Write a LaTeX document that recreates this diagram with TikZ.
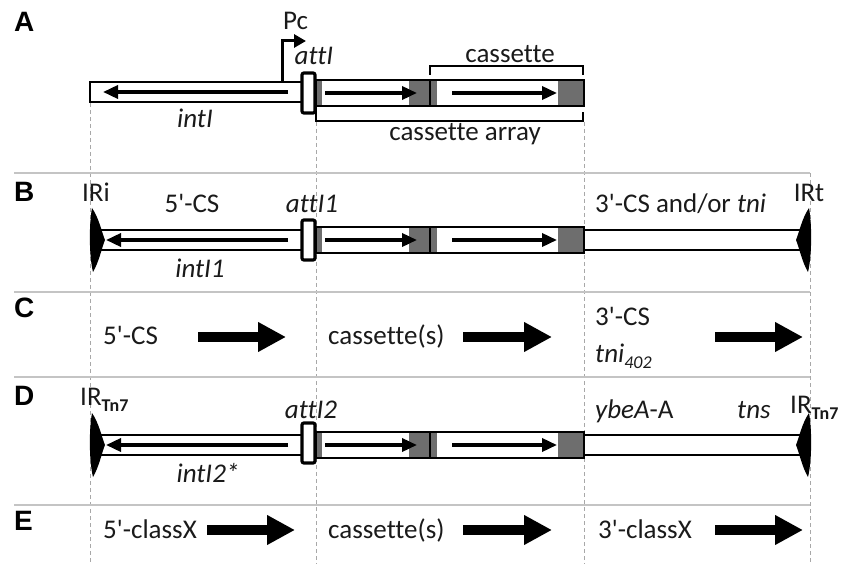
\documentclass[tikz,border=0pt]{standalone}
\usepackage{fontspec}
\setmainfont{Carlito}[Ligatures={TeXOff,CommonOff}]
\newfontfamily\lblfont{Liberation Sans}[BoldFont={Liberation Sans Bold}]
\usetikzlibrary{arrows.meta}
\definecolor{cgray}{HTML}{6E6E6E}
\definecolor{sepgray}{HTML}{C4C4C4}
\definecolor{dashgray}{HTML}{A8A8A8}
\definecolor{txtc}{HTML}{1A1A1A}
\tikzset{
 txt/.style={font=\fontsize{27}{32}\selectfont, text=txtc, inner sep=0pt, anchor=base west},
 ctxt/.style={txt, anchor=base},
 panel/.style={font=\lblfont\bfseries\fontsize{28}{32}\selectfont, inner sep=0pt, anchor=base west},
 sepline/.style={draw=sepgray, line width=1.6pt},
 guide/.style={draw=dashgray, line width=1pt, dash pattern=on 4pt off 3pt},
 gbox/.style={draw=black, line width=2.5pt, fill=white},
 attbox/.style={draw=black, line width=3.2pt, fill=white, rounded corners=2pt},
 gene/.style={line width=3.5pt, -{Triangle[length=15pt,width=13pt]}},
 bigarrow/.style={line width=10pt, -{Triangle[length=28pt,width=28pt]}},
 brk/.style={draw=black, line width=2pt},
}
\newcommand\CassArr[3]{%
 \fill[white] (316,#1) rectangle (584,#2);
 \fill[cgray] (316,#1) rectangle (322,#2);
 \fill[cgray] (409,#1) rectangle (437,#2);
 \fill[cgray] (558,#1) rectangle (584,#2);
 \draw[gene] (325,#3) -- (417,#3);
 \draw[gene] (452,#3) -- (557,#3);
 \draw[line width=2.5pt] (316,#1) rectangle (584,#2);
 \draw[line width=2pt] (430,#1) -- (430,#2);
}
\newcommand\IRL[2]{\fill[black] (#1+2,#2-32) .. controls (#1+9,#2-22) and (#1+12,#2-7) .. (#1+15,#2) .. controls (#1+12,#2+7) and (#1+9,#2+22) .. (#1+3,#2+32) .. controls (#1-1,#2+16) and (#1-1,#2-16) .. cycle;}
\newcommand\IRR[2]{\fill[black] (#1-2,#2-32) .. controls (#1-9,#2-22) and (#1-12,#2-7) .. (#1-15,#2) .. controls (#1-12,#2+7) and (#1-9,#2+22) .. (#1-3,#2+32) .. controls (#1+1,#2+16) and (#1+1,#2-16) .. cycle;}
\newcommand\TnSub{\raisebox{-6pt}{\fontsize{18}{20}\selectfont\bfseries Tn7}}
\begin{document}
\begin{tikzpicture}[x=1pt,y=-1pt]
\useasboundingbox (0,0) rectangle (841,564);
% guide lines
\draw[guide] (90,103) -- (90,564);
\draw[guide] (316,122) -- (316,564);
\draw[guide] (584,122) -- (584,564);
\draw[guide] (810,173) -- (810,564);
% separators
\draw[sepline] (14,173) -- (810,173);
\draw[sepline] (14,292) -- (810,292);
\draw[sepline] (14,377) -- (810,377);
\draw[sepline] (14,505) -- (810,505);

% ---------- A ----------
\node[panel] (lA) at (14,32) {A};
\draw[gbox] (90,82) rectangle (302,102);
\draw[gene] (288,92) -- (103,92);
\CassArr{80}{106}{93}
\draw[line width=3pt, -{Triangle[length=12pt,width=13pt]}] (282,82) -- (282,41) -- (306,41);
\draw[attbox] (302,73) rectangle (315,113);
\draw[brk] (430,75) -- (430,66) -- (583,66) -- (583,75);
\draw[brk] (316,106) -- (316,121) -- (583,121) -- (583,112);
\node[txt] (pc) at (283,30) {Pc};
\node[ctxt] (attA) at (314,65) {\itshape attI};
\node[ctxt] (cas) at (510,63) {cassette};
\node[ctxt] (casarr) at (465,141) {cassette array};
\node[ctxt] (intI) at (195,128) {\itshape intI};

% ---------- B ----------
\node[panel] (lB) at (14,202) {B};
\draw[gbox] (97,230) rectangle (302,250);
\draw[gene] (288,240) -- (106,240);
\CassArr{227}{253}{240}
\draw[gbox] (584,230) rectangle (805,250);
\draw[attbox] (302,220) rectangle (315,260);
\IRL{90}{240}
\IRR{811}{240}
\node[ctxt] (iri) at (96,202) {IRi};
\node[ctxt] (cs5B) at (192,213) {5'-CS};
\node[ctxt] (att1) at (312,213) {\itshape attI1};
\node[ctxt] (int1) at (200,277) {\itshape intI1};
\node[txt] (cs3B) at (595,213) {3'-CS and/or \textit{tni}};
\node[ctxt] (irt) at (809,202) {IRt};

% ---------- C ----------
\node[panel] (lC) at (14,317) {C};
\node[txt] (cs5C) at (103,344) {5'-CS};
\draw[bigarrow] (198,337) -- (286,337);
\node[txt] (casC) at (328,344) {cassette(s)};
\draw[bigarrow] (463,337) -- (552,337);
\node[txt] (cs3C) at (595,325) {3'-CS};
\node[txt] (tniC) at (595,362) {\itshape tni\raisebox{-6pt}{\fontsize{18}{20}\selectfont 402}};
\draw[bigarrow] (715,337) -- (803,337);

% ---------- D ----------
\node[panel] (lD) at (14,405) {D};
\draw[gbox] (97,435) rectangle (302,455);
\draw[gene] (288,445) -- (106,445);
\CassArr{432}{458}{445}
\draw[gbox] (584,435) rectangle (805,455);
\draw[attbox] (302,423) rectangle (315,463);
\IRL{90}{445}
\IRR{811}{445}
\node[txt] (irD1) at (80,405) {IR\TnSub};
\node[ctxt] (att2) at (311,418) {\itshape attI2};
\node[ctxt] (int2) at (208,482) {\itshape intI2*};
\node[txt] (ybe) at (595,418) {\textit{ybeA}-A};
\node[txt] (tns) at (737,418) {\itshape tns};
\node[txt] (irD2) at (790,413) {IR\TnSub};

% ---------- E ----------
\node[panel] (lE) at (14,530) {E};
\node[txt] (cx5) at (103,538) {5'-classX};
\draw[bigarrow] (207,530) -- (295,530);
\node[txt] (casE) at (328,538) {cassette(s)};
\draw[bigarrow] (463,530) -- (552,530);
\node[txt] (cx3) at (598,538) {3'-classX};
\draw[bigarrow] (715,530) -- (803,530);
\end{tikzpicture}
\end{document}
